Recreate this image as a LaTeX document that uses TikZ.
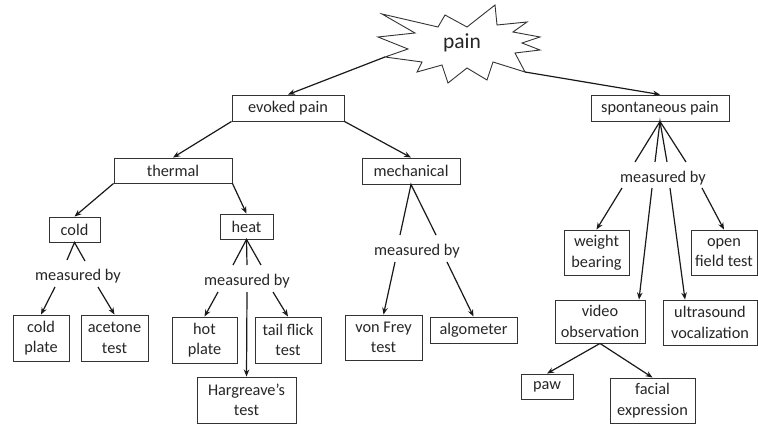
\documentclass[tikz,border=0pt]{standalone}
\usepackage{fontspec}
\setmainfont{Carlito}
\usetikzlibrary{arrows.meta,calc}
\begin{document}
\begin{tikzpicture}[x=1pt,y=-1pt,
  box/.style={draw=black!80, line width=0.9pt, fill=white, inner sep=0pt, align=center,
    font=\fontsize{16.3}{20.5}\selectfont, text=black!85},
  lbl/.style={inner sep=0pt, font=\fontsize{16.3}{20.5}\selectfont, text=black!85},
  con/.style={line width=1.2pt, draw=black!90},
  arr/.style={con, -{Stealth[length=7pt,width=5.5pt]}}]
\useasboundingbox (0,0) rectangle (758,428);
% star
\draw[line width=0.9pt, draw=black!80, fill=white]
  (382,14) -- (415,33) -- (378,37) -- (408,49) -- (385,57) -- (422,62) -- (417,72) -- (442,65)
  -- (448,83) -- (467,68) -- (487,80) -- (493,62) -- (525,72) -- (515,53) -- (540,50) -- (522,43)
  -- (540,37) -- (513,32) -- (527,22) -- (497,25) -- (495,5) -- (467,27) -- (445,15) -- (438,27) -- cycle;
\node[inner sep=0pt, font=\fontsize{21.5}{25}\selectfont, text=black!85] (pain) at (462,43) {pain};
\coordinate (sl) at (385,57);
\coordinate (sr) at (525,72);
% boxes
\node[box, minimum width=112, minimum height=26] (evoked) at (288,108) {evoked pain};
\node[box, minimum width=138, minimum height=26] (spont) at (660,108) {spontaneous pain};
\node[box, minimum width=118, minimum height=25] (thermal) at (173,170.5) {thermal};
\node[box, minimum width=98, minimum height=26] (mech) at (411,171) {mechanical};
\node[box, minimum width=51, minimum height=25] (cold) at (74.5,229.5) {cold};
\node[box, minimum width=53, minimum height=25] (heat) at (246.5,226.5) {heat};
\node[lbl] (mbcold) at (78,276) {measured by};
\node[lbl] (mbheat) at (247,281) {measured by};
\node[lbl] (mbmech) at (417,251) {measured by};
\node[lbl] (mbspont) at (663,178) {measured by};
\node[box, minimum width=56, minimum height=46] (coldplate) at (41,338) {cold\\plate};
\node[box, minimum width=67, minimum height=46] (acetone) at (114.5,338) {acetone\\test};
\node[box, minimum width=65, minimum height=46] (hotplate) at (204.5,340) {hot\\plate};
\node[box, minimum width=66, minimum height=46] (tailflick) at (288,340) {tail flick\\test};
\node[box, minimum width=99, minimum height=46] (hargreave) at (246.5,400) {Hargreave’s\\test};
\node[box, minimum width=77, minimum height=45] (vonfrey) at (383.5,337.5) {von Frey\\test};
\node[box, minimum width=87, minimum height=26] (algometer) at (473.5,330) {algometer};
\node[box, minimum width=65, minimum height=45] (weight) at (596.5,252.5) {weight\\bearing};
\node[box, minimum width=66, minimum height=45] (openfield) at (724,252.5) {open\\field test};
\node[box, minimum width=90, minimum height=43] (video) at (600,321.5) {video\\observation};
\node[box, minimum width=94, minimum height=45] (ultra) at (710,322.5) {ultrasound\\vocalization};
\node[box, minimum width=52, minimum height=25] (paw) at (547,386.5) {paw};
\node[box, minimum width=85, minimum height=45] (facial) at (652.5,400.5) {facial\\expression};
% helper coordinates
\coordinate (c1) at (67,260); \coordinate (c2) at (85,261);
\coordinate (c3) at (55,287); \coordinate (c4) at (98,287);
\coordinate (h1) at (233,265); \coordinate (h2) at (247,265); \coordinate (h3) at (261,265);
\coordinate (h4) at (218,292); \coordinate (h5) at (247,292); \coordinate (h6) at (273,292);
\coordinate (m1) at (400,235); \coordinate (m2) at (436,235);
\coordinate (m3) at (395,262); \coordinate (m4) at (447,262);
\coordinate (s1) at (635,162); \coordinate (s2) at (655,162); \coordinate (s3) at (667,162); \coordinate (s4) at (686,162);
\coordinate (s5) at (622,188); \coordinate (s6) at (652,188); \coordinate (s7) at (670,188); \coordinate (s8) at (702,188);
% connectors
\draw[arr] (sl) -- (evoked.north);
\draw[arr] (sr) -- (spont.north);
\draw[arr] (evoked.south west) -- (thermal.north);
\draw[arr] (evoked.south east) -- (mech.north);
\draw[arr] (thermal.south west) -- (cold.north);
\draw[arr] (thermal.south east) -- (heat.north);
\draw[con] (c1) -- (cold.south) -- (c2);
\draw[arr] (c3) -- (coldplate.north);
\draw[arr] (c4) -- (acetone.north);
\draw[con] (h1) -- (heat.south) -- (h3);
\draw[con] (heat.south) -- (h2);
\draw[arr] (h4) -- (hotplate.north);
\draw[arr] (h5) -- (hargreave.north);
\draw[arr] (h6) -- (tailflick.north);
\draw[con] (m1) -- (mech.south) -- (m2);
\draw[arr] (m3) -- (vonfrey.north);
\draw[arr] (m4) -- (algometer.north);
\draw[con] (s1) -- (spont.south) -- (s4);
\draw[con] (s2) -- (spont.south) -- (s3);
\draw[arr] (s5) -- (weight.north);
\draw[arr] (s6) -- ([xshift=39pt]video.north);
\draw[arr] (s7) -- ([xshift=-25pt]ultra.north);
\draw[arr] (s8) -- (openfield.north);
\draw[arr] (video.south) -- (paw.north);
\draw[arr] (video.south) -- (facial.north);
\end{tikzpicture}
\end{document}
